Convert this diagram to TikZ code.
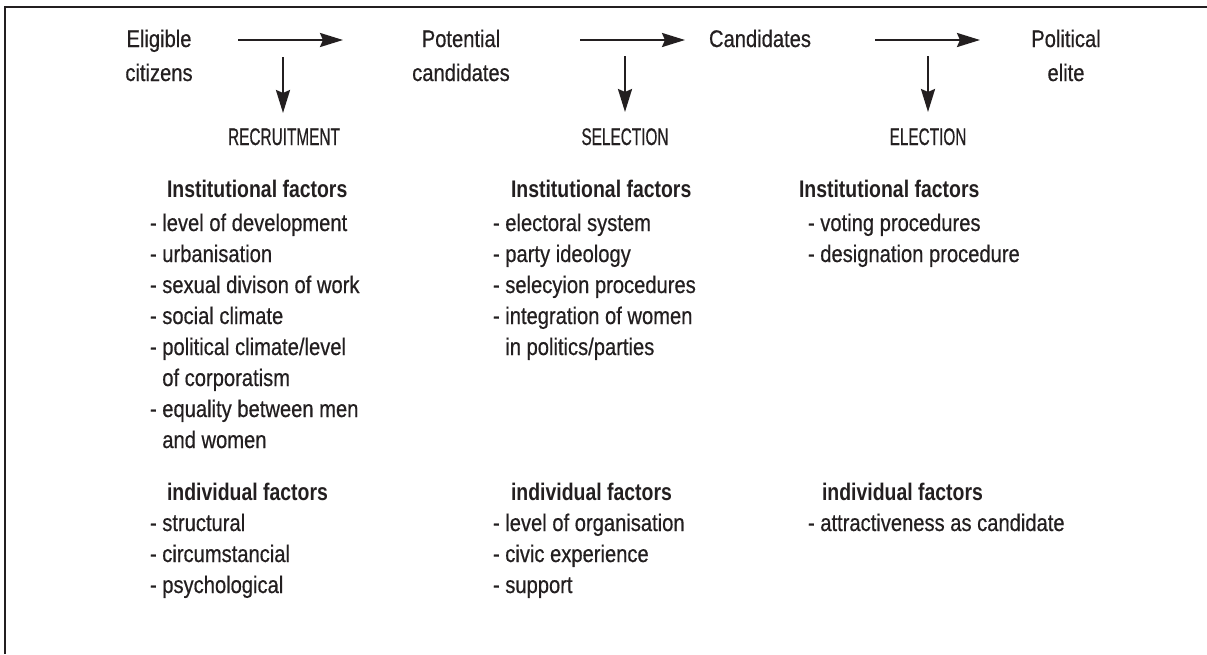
\documentclass[tikz,border=0pt]{standalone}
\usepackage{fontspec}
\setmainfont{Liberation Sans}[FakeStretch=0.84, FakeBold=0.5]
\newfontfamily\capsfont{Liberation Sans}[FakeStretch=0.64, FakeBold=0.5]
\newfontfamily\headfont{Liberation Sans}[FakeStretch=0.81]
\usetikzlibrary{arrows.meta}
\definecolor{ink}{HTML}{231F20}

\begin{document}
\begin{tikzpicture}[x=1pt,y=-1pt,
  every node/.style={inner sep=0pt, outer sep=0pt, text=ink,
    font=\fontsize{24}{34}\selectfont},
  label/.style={align=center, anchor=base},
  stage/.style={anchor=base, font=\fontsize{24}{28}\selectfont\capsfont},
  head/.style={anchor=base west, font=\fontsize{24}{28}\selectfont\headfont\bfseries},
  item/.style={anchor=base west},
  flow/.style={draw=ink, line width=2.4pt,
    -{Stealth[length=23pt,width=14pt,inset=3pt]}},
  frame/.style={draw=ink, line width=1.5pt}]

% page area and open frame (top and left rules)
\fill[white] (0,0) rectangle (1207,654);
\useasboundingbox (0,0) rectangle (1207,654);
\path[frame] (5,654) -- (5,7) -- (1207,7);

% the four stages of the pathway (base = last line)
\node[label] (elig) at (159,81) {Eligible\\citizens};
\node[label] (pot)  at (461,81) {Potential\\candidates};
\node[label] (cand) at (760,47) {Candidates};
\node[label] (elite) at (1066,81) {Political\\elite};

% arrow end points
\coordinate (h1s) at (238,40);  \coordinate (h1e) at (343,40);
\coordinate (h2s) at (580,40);  \coordinate (h2e) at (685,40);
\coordinate (h3s) at (875,40);  \coordinate (h3e) at (980,40);
\coordinate (d1s) at (283,57);  \coordinate (d1e) at (283,113);
\coordinate (d2s) at (625,56);  \coordinate (d2e) at (625,112);
\coordinate (d3s) at (928,56);  \coordinate (d3e) at (928,112);

\draw[flow] (h1s) -- (h1e);
\draw[flow] (h2s) -- (h2e);
\draw[flow] (h3s) -- (h3e);
\draw[flow] (d1s) -- (d1e);
\draw[flow] (d2s) -- (d2e);
\draw[flow] (d3s) -- (d3e);

% filter stages
\node[stage] (rec) at (284,145) {RECRUITMENT};
\node[stage] (sel) at (625,145) {SELECTION};
\node[stage] (ele) at (928,145) {ELECTION};

% institutional factors
\node[head] (rih) at (167,197) {Institutional factors};
\node[head] (sih) at (511,197) {Institutional factors};
\node[head] (eih) at (799,197) {Institutional factors};

\foreach \t [count=\i] in {{- level of development},{- urbanisation},
    {- sexual divison of work},{- social climate},{- political climate/level},
    {\hphantom{- }of corporatism},{- equality between men},{\hphantom{- }and women}}
  \node[item] (ri\i) at (150,{200+31*\i}) {\t};

\foreach \t [count=\i] in {{- electoral system},{- party ideology},
    {- selecyion procedures},{- integration of women},
    {\hphantom{- }in politics/parties}}
  \node[item] (si\i) at (493,{200+31*\i}) {\t};

\foreach \t [count=\i] in {{- voting procedures},{- designation procedure}}
  \node[item] (ei\i) at (808,{200+31*\i}) {\t};

% individual factors
\node[head] (rdh) at (167,500) {individual factors};
\node[head] (sdh) at (511,500) {individual factors};
\node[head] (edh) at (822,500) {individual factors};

\foreach \t [count=\i] in {{- structural},{- circumstancial},{- psychological}}
  \node[item] (rd\i) at (150,{500+31*\i}) {\t};

\foreach \t [count=\i] in {{- level of organisation},{- civic experience},{- support}}
  \node[item] (sd\i) at (493,{500+31*\i}) {\t};

\node[item] (ed1) at (808,531) {- attractiveness as candidate};

\end{tikzpicture}
\end{document}
